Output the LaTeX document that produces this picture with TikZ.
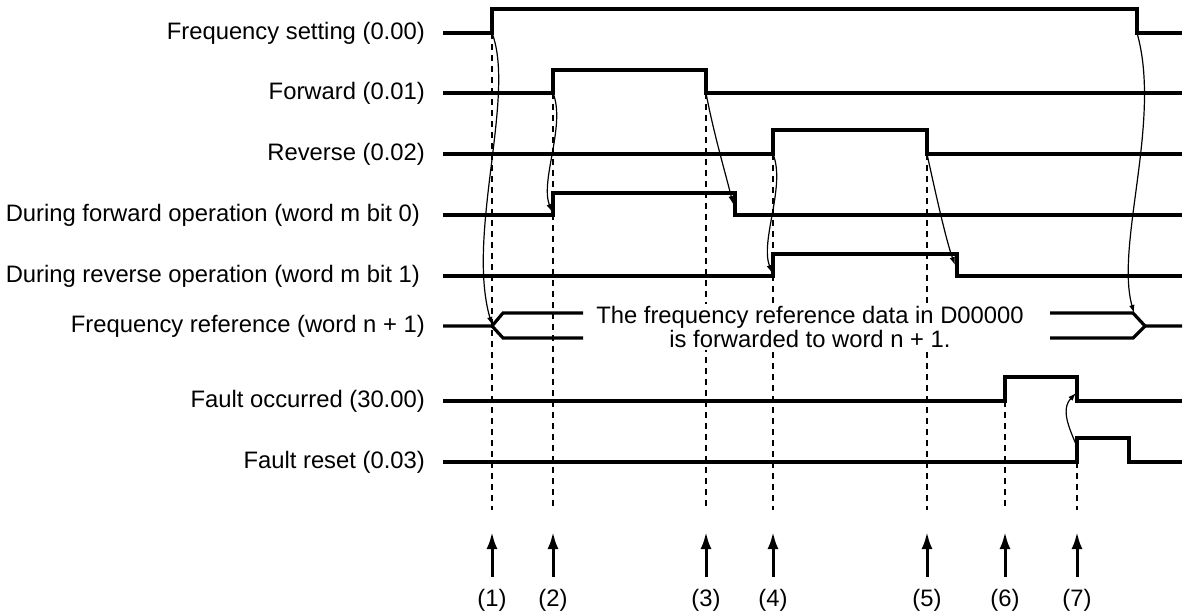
\documentclass[tikz,border=0pt]{standalone}
\usepackage{fontspec}
\setmainfont{Liberation Sans}
\usetikzlibrary{arrows.meta}
\begin{document}
\begin{tikzpicture}[x=1pt,y=-1pt,
  sig/.style={line width=3.2pt, line join=miter},
  lab/.style={anchor=east, font=\fontsize{23.8}{27}\selectfont, inner sep=0pt},
  guide/.style={line width=1.5pt, dash pattern=on 6pt off 5pt},
  cause/.style={line width=1.2pt, -{Latex[length=8pt,width=5.5pt]}},
  evt/.style={line width=3pt, -{Latex[length=17pt,width=11pt]}},
  num/.style={anchor=base, font=\fontsize{23.8}{27}\selectfont, inner sep=0pt},
  note/.style={align=center, font=\fontsize{23.8}{21}\selectfont, inner xsep=2pt, inner ysep=3pt, fill=white}]
\useasboundingbox (0,0) rectangle (1184,614);

% labels
\node[lab] (l1) at (425,33) {Frequency setting (0.00)};
\node[lab] (l2) at (425,93) {Forward (0.01)};
\node[lab] (l3) at (425,154) {Reverse (0.02)};
\node[lab] (l4) at (420,215) {During forward operation (word m bit 0)};
\node[lab] (l5) at (420,276) {During reverse operation (word m bit 1)};
\node[lab] (l6) at (425,326) {Frequency reference (word n + 1)};
\node[lab] (l7) at (425,401) {Fault occurred (30.00)};
\node[lab] (l8) at (425,462) {Fault reset (0.03)};

% event coordinates
\coordinate (e1) at (492,33);
\coordinate (e2) at (553,93);
\coordinate (e3) at (706,93);
\coordinate (e4) at (773,154);
\coordinate (e5) at (927,154);
\coordinate (e6) at (1005,401);
\coordinate (e7) at (1077,462);

% dashed guides
\foreach \e/\n in {e1/1,e2/2,e3/3,e4/4,e5/5,e6/6,e7/7}{
  \coordinate (g\n) at (\e |- 0,510);
  \draw[guide] (\e) -- (g\n);
}

% signals
\draw[sig] (443,33) -- (e1) -- (492,9) -- (1137,9) -- (1137,33) -- (1182,33);
\draw[sig] (443,93) -- (e2) -- (553,70) -- (706,70) -- (e3) -- (1182,93);
\draw[sig] (443,154) -- (e4) -- (773,130) -- (927,130) -- (e5) -- (1182,154);
\draw[sig] (443,215) -- (553,215) -- (553,193) -- (735,193) -- (735,215) -- (1182,215);
\draw[sig] (443,276) -- (773,276) -- (773,254) -- (957,254) -- (957,276) -- (1182,276);
\draw[sig] (443,326) -- (492,326) -- (503,313) -- (583,313);
\draw[sig] (492,326) -- (503,338) -- (583,338);
\draw[sig] (1050,313) -- (1133,313) -- (1145,326) -- (1182,326);
\draw[sig] (1050,338) -- (1133,338) -- (1145,326);
\draw[sig] (443,401) -- (e6) -- (1005,377) -- (1077,377) -- (1077,401) -- (1182,401);
\draw[sig] (443,462) -- (e7) -- (1077,438) -- (1129,438) -- (1129,462) -- (1182,462);

% note
\node[note] (note) at (810,327) {The frequency reference data in D00000\\is forwarded to word n + 1.};

% cause arrows
\coordinate (c1) at (492,325);
\coordinate (c2) at (552,212);
\coordinate (c3) at (733,204);
\coordinate (c4) at (772,273);
\coordinate (c5) at (955,265);
\coordinate (c6) at (1134,313);
\coordinate (c7s) at (1078,449);
\coordinate (c7) at (1076,393);
\coordinate (s6) at (1137,33);
\draw[cause] (e1) .. controls (516,95) and (466,235) .. (c1);
\draw[cause] (e2) .. controls (566,125) and (540,180) .. (c2);
\draw[cause] (e3) .. controls (714,135) and (726,175) .. (c3);
\draw[cause] (e4) .. controls (786,186) and (760,240) .. (c4);
\draw[cause] (e5) .. controls (936,195) and (946,240) .. (c5);
\draw[cause] (s6) .. controls (1162,120) and (1115,245) .. (c6);
\draw[cause] (c7s) .. controls (1070,430) and (1060,410) .. (c7);

% bottom event arrows and numbers
\foreach \e/\n in {e1/1,e2/2,e3/3,e4/4,e5/5,e6/6,e7/7}{
  \coordinate (a\n) at (\e |- 0,577);
  \coordinate (b\n) at (\e |- 0,532);
  \draw[evt] (a\n) -- (b\n);
  \node[num] (n\n) at (\e |- 0,606) {(\n)};
}
\end{tikzpicture}
\end{document}
